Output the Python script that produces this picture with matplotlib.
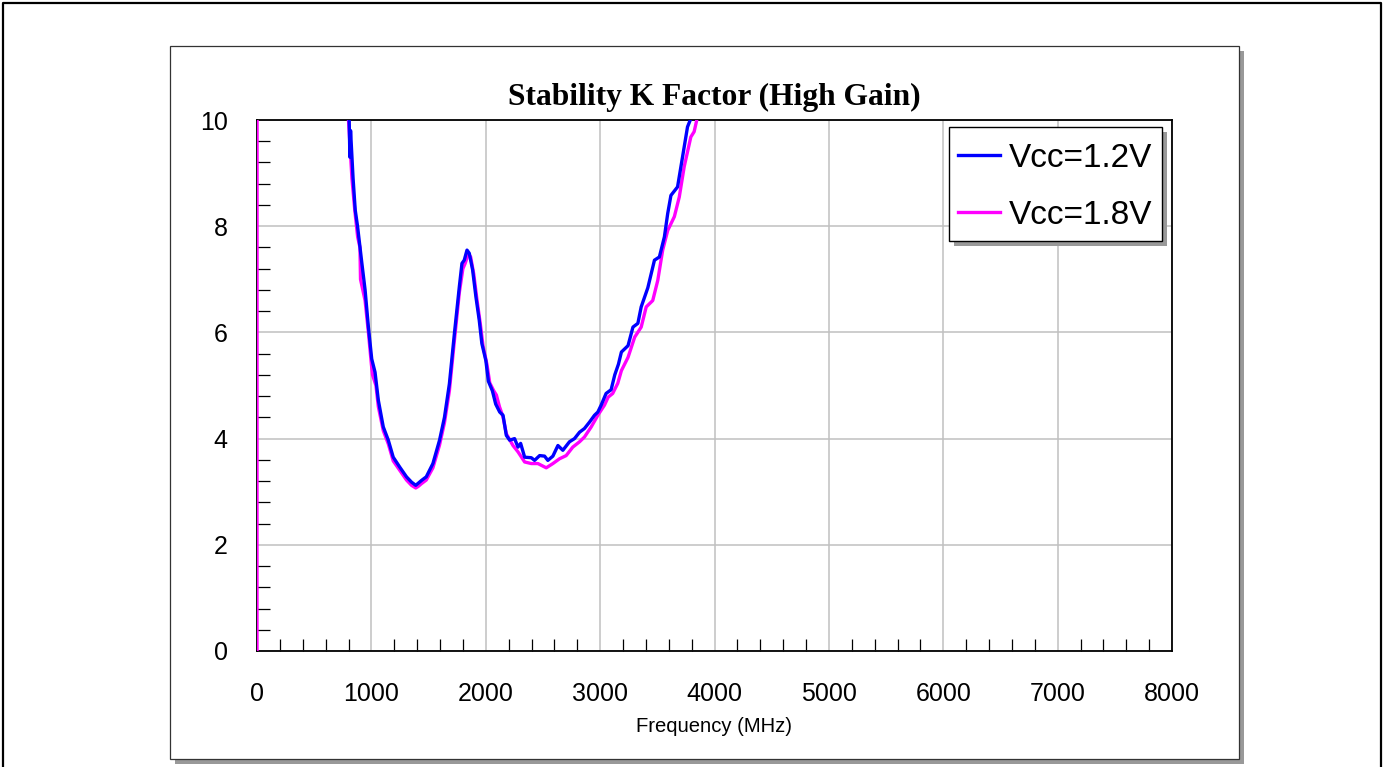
import matplotlib
matplotlib.use("Agg")
import matplotlib.pyplot as plt
from matplotlib.patches import Rectangle
from matplotlib.lines import Line2D
from matplotlib.ticker import MultipleLocator

# ---------------- data ----------------
title = "Stability K Factor (High Gain)"
xlabel = "Frequency (MHz)"
series_labels = ["Vcc=1.2V", "Vcc=1.8V"]
series_colors = ["#0000ff", "#ff00ff"]

freq_12 = [790, 806, 812, 818, 840, 859, 879, 917, 945, 974, 1003, 1032, 1061, 1104,
           1148, 1191, 1249, 1307, 1351, 1388, 1410, 1437, 1480, 1538, 1596, 1639, 1682,
           1726, 1769, 1792, 1812, 1836, 1856, 1885, 1914, 1943, 1966, 2001, 2023, 2058,
           2087, 2122, 2151, 2180, 2209, 2252, 2282, 2305, 2340, 2398, 2427, 2471, 2514,
           2543, 2587, 2631, 2674, 2732, 2776, 2820, 2863, 2907, 2951, 2980, 3009, 3052,
           3096, 3128, 3160, 3186, 3244, 3287, 3330, 3359, 3417, 3475, 3518, 3562, 3591,
           3619, 3677, 3721, 3764, 3807, 3830]
k_12 = [10.6, 10.0, 9.3, 9.8, 8.9, 8.3, 8.0, 7.3, 6.8, 6.1, 5.5, 5.25, 4.72, 4.22,
        3.97, 3.65, 3.46, 3.28, 3.18, 3.12, 3.16, 3.21, 3.28, 3.53, 3.97, 4.40, 5.03,
        5.98, 6.86, 7.30, 7.36, 7.55, 7.49, 7.18, 6.67, 6.23, 5.79, 5.47, 5.08, 4.90,
        4.65, 4.50, 4.44, 4.06, 3.97, 4.00, 3.84, 3.91, 3.65, 3.64, 3.59, 3.68, 3.67,
        3.59, 3.67, 3.87, 3.78, 3.94, 4.00, 4.12, 4.19, 4.31, 4.44, 4.50, 4.63, 4.85,
        4.92, 5.20, 5.40, 5.63, 5.75, 6.10, 6.17, 6.48, 6.84, 7.36, 7.42, 7.80, 8.24,
        8.58, 8.74, 9.31, 9.87, 10.1, 10.5]

freq_18 = [0, 2, 780, 800, 830, 855, 880, 900, 905, 945, 974, 1000, 1010, 1040, 1061,
           1104, 1148, 1191, 1249, 1307, 1351, 1388, 1410, 1437, 1480, 1538, 1596, 1639,
           1682, 1726, 1769, 1800, 1820, 1848, 1868, 1895, 1924, 1953, 1976, 2010, 2035,
           2070, 2093, 2120, 2151, 2180, 2238, 2282, 2340, 2398, 2456, 2529, 2587, 2645,
           2703, 2761, 2820, 2863, 2922, 2983, 3038, 3070, 3110, 3154, 3186, 3244, 3302,
           3359, 3403, 3460, 3504, 3547, 3591, 3649, 3692, 3735, 3793, 3822, 3845, 3870]
k_18 = [0.0, 30.0, 10.8, 10.0, 8.9, 8.3, 7.8, 7.6, 7.0, 6.6, 6.0, 5.4, 5.2, 5.0, 4.6,
        4.15, 3.9, 3.58, 3.40, 3.22, 3.12, 3.07, 3.10, 3.15, 3.22, 3.45, 3.88, 4.30,
        4.90, 5.85, 6.75, 7.20, 7.30, 7.48, 7.42, 7.10, 6.60, 6.15, 5.75, 5.40, 5.05,
        4.90, 4.82, 4.60, 4.41, 4.09, 3.87, 3.75, 3.56, 3.53, 3.53, 3.45, 3.53, 3.62,
        3.68, 3.84, 3.94, 4.03, 4.22, 4.45, 4.63, 4.78, 4.85, 5.04, 5.28, 5.53, 5.91,
        6.10, 6.48, 6.60, 6.98, 7.55, 7.92, 8.18, 8.55, 9.12, 9.68, 9.78, 10.0, 10.5]

x_ticks = [0, 1000, 2000, 3000, 4000, 5000, 6000, 7000, 8000]
y_ticks = [0, 2, 4, 6, 8, 10]

# ---------------- figure ----------------
W, H = 1384, 767
fig = plt.figure(figsize=(W / 100, H / 100), dpi=100)
fig.patch.set_facecolor("white")

def fx(px):
    return px / W

def fy(py):
    return 1 - py / H

# outer border (left, top, right)
fig.add_artist(Line2D([fx(3), fx(3), fx(1381), fx(1381)],
                      [fy(772), fy(3), fy(3), fy(772)],
                      transform=fig.transFigure, color="black", lw=1.6))

# panel with shadow
px0, py0, px1, py1 = 169.5, 45.5, 1239, 759
fig.add_artist(Rectangle((fx(px0 + 5), fy(py1 + 5)), fx(px1 - px0), (py1 - py0) / H,
                         transform=fig.transFigure, facecolor="#999999",
                         edgecolor="none", zorder=0))
fig.add_artist(Rectangle((fx(px0), fy(py1)), fx(px1 - px0), (py1 - py0) / H,
                         transform=fig.transFigure, facecolor="white",
                         edgecolor="#333333", lw=0.9, zorder=0.5))

ax = fig.add_axes([fx(257), fy(651), fx(1172 - 257), (651 - 120) / H])
ax.set_zorder(2)
ax.set_facecolor("white")

ax.plot(freq_18, k_18, color=series_colors[1], lw=2.4, label=series_labels[1], zorder=3)
ax.plot(freq_12, k_12, color=series_colors[0], lw=2.4, label=series_labels[0], zorder=4)

ax.set_xlim(0, 8000)
ax.set_ylim(0, 10)
ax.set_xticks(x_ticks)
ax.set_yticks(y_ticks)
ax.xaxis.set_minor_locator(MultipleLocator(200))
ax.yaxis.set_minor_locator(MultipleLocator(0.4))
ax.grid(True, which="major", color="#c0c0c0", lw=1.1, zorder=1)
ax.set_axisbelow(True)

ax.tick_params(which="major", length=0, pad=21, labelsize=18)
ax.tick_params(axis="x", which="major", pad=22)
ax.tick_params(which="minor", direction="in", length=9, width=0.9, color="black")
for lab in ax.get_xticklabels() + ax.get_yticklabels():
    lab.set_fontfamily("Liberation Sans")
for sp in ax.spines.values():
    sp.set_linewidth(1.3)
    sp.set_color("black")

# ---------------- legend (drawn in figure pixels) ----------------
lx0, ly0, lx1, ly1 = 949, 127, 1162, 241
fig.add_artist(Rectangle((fx(lx0 + 5), fy(ly1 + 5)), fx(lx1 - lx0), (ly1 - ly0) / H,
                         transform=fig.transFigure, facecolor="#999999",
                         edgecolor="none", zorder=5))
fig.add_artist(Rectangle((fx(lx0), fy(ly1)), fx(lx1 - lx0), (ly1 - ly0) / H,
                         transform=fig.transFigure, facecolor="white",
                         edgecolor="black", lw=1.0, zorder=6))
row_y = [155, 212]
for i in range(len(series_labels)):
    fig.add_artist(Line2D([fx(958), fx(1000)], [fy(row_y[i]), fy(row_y[i])],
                          transform=fig.transFigure, color=series_colors[i],
                          lw=2.4, zorder=7))
    fig.text(fx(1009), fy(row_y[i]), series_labels[i], ha="left", va="center_baseline",
             family="Liberation Sans", size=24, zorder=7)

fig.text(fx(714.5), fy(97), title, ha="center", va="center",
         family="Liberation Serif", weight="bold", size=22.7)
fig.text(fx(714.5), fy(727), xlabel, ha="center", va="center",
         family="Liberation Sans", size=14.6)

fig.savefig("out.png", dpi=100)
